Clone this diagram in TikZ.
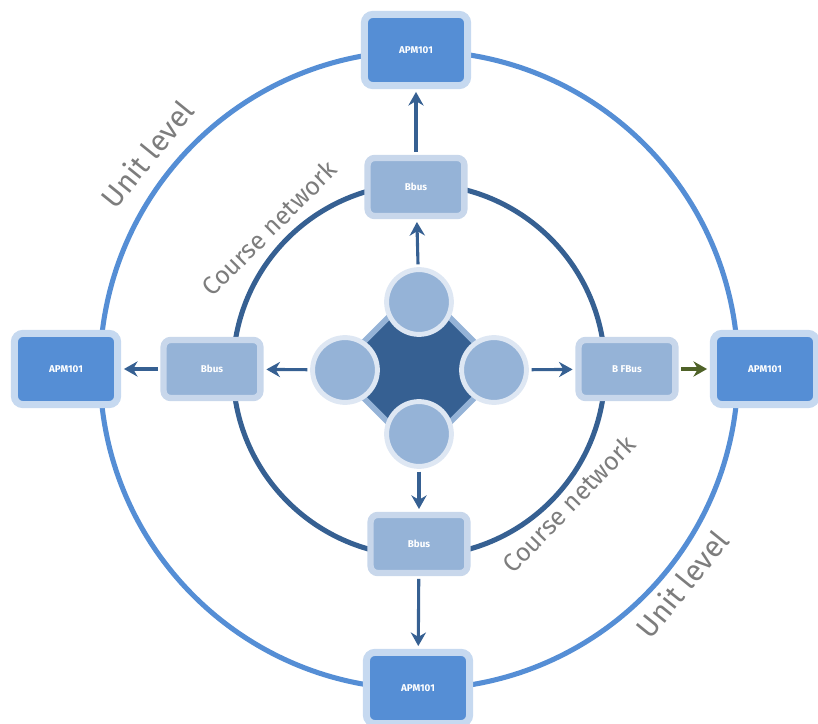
\documentclass[tikz,border=0pt]{standalone}
\usepackage{fontspec}
\setsansfont{Fira Sans}
\usetikzlibrary{arrows.meta,positioning}
\definecolor{unitblue}{RGB}{85,142,213}
\definecolor{unitedge}{RGB}{198,217,240}
\definecolor{busblue}{RGB}{149,179,215}
\definecolor{busedge}{RGB}{200,215,235}
\definecolor{netblue}{RGB}{54,96,146}
\definecolor{hubedge}{RGB}{222,231,243}
\definecolor{fwdgreen}{RGB}{79,98,40}
\definecolor{lblgray}{RGB}{125,125,125}
\tikzset{
  unitbox/.style={draw=unitedge, fill=unitblue, line width=5pt, rounded corners=6pt,
                  minimum width=2.58cm, minimum height=1.78cm, text=white,
                  font=\sffamily\bfseries\fontsize{7}{8}\selectfont},
  busbox/.style={draw=busedge, fill=busblue, line width=4.5pt, rounded corners=5pt,
                 minimum width=2.42cm, minimum height=1.45cm, text=white,
                 font=\sffamily\bfseries\fontsize{7}{8}\selectfont},
  hub/.style={draw=busblue, fill=netblue, line width=4pt, rounded corners=16pt,
              rotate=45, minimum size=2.95cm},
  hubdot/.style={circle, draw=hubedge, fill=busblue, line width=3.5pt,
                 minimum size=1.62cm, inner sep=0pt},
  netarr/.style={-{Stealth[length=3.4mm,width=3.8mm]}, netblue, line width=2.2pt,
                 shorten <=2pt, shorten >=2pt},
  fwdarr/.style={netarr, fwdgreen},
  ring/.style={line width=3.6pt},
  lvl/.style={text=lblgray, font=\sffamily\fontsize{21}{21}\selectfont},
  netlbl/.style={lvl, font=\sffamily\fontsize{18}{18}\selectfont},
}

\begin{document}
\begin{tikzpicture}[x=0.025cm, y=0.025cm]
    \useasboundingbox (-419,-354) rectangle (399,370);
    % rings
    \draw[ring, unitblue] (0,0) circle[radius=319];
    \draw[ring, netblue] (0,0) circle[radius=186];
    % hub
    \node[hub] (hub) at (0,0) {};
    \node[hubdot] (dtop) at (0,68) {};
    \node[hubdot] (dleft) at (-74,0) {};
    \node[hubdot] (dright) at (75,0) {};
    \node[hubdot] (dbot) at (0,-64) {};
    % course network boxes
    \node[busbox] (btop) at (-3,183) {Bbus};
    \node[busbox] (bleft) at (-207,1) {Bbus};
    \node[busbox] (bright) at (208,1) {B FBus};
    \node[busbox] (bbot) at (0,-174) {Bbus};
    % unit level boxes
    \node[unitbox] (utop) at (-3,320) {APM101};
    \node[unitbox] (uleft) at (-353,1) {APM101};
    \node[unitbox] (uright) at (346,1) {APM101};
    \node[unitbox] (ubot) at (-1,-318) {APM101};
    % arrows
    \draw[netarr] (dtop) -- (btop);
    \draw[netarr] (dleft) -- (bleft);
    \draw[netarr] (dright) -- (bright);
    \draw[netarr] (dbot) -- (bbot);
    \draw[netarr] (btop) -- (utop);
    \draw[netarr] (bleft) -- (uleft);
    \draw[fwdarr] (bright) -- (uright);
    \draw[netarr] (bbot) -- (ubot);
    % labels
    \node[lvl, rotate=51] (ulvla) at (-272,216) {Unit level};
    \node[netlbl, rotate=45] (cneta) at (-150,142) {Course network};
    \node[netlbl, rotate=46] (cnetb) at (150,-134) {Course network};
    \node[lvl, rotate=51] (ulvlb) at (263,-214) {Unit level};
\end{tikzpicture}
\end{document}
